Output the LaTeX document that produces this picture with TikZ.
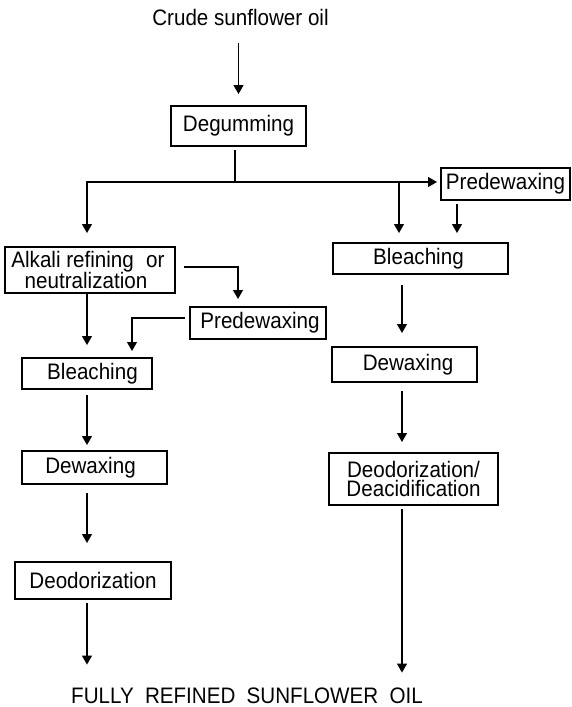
\documentclass[tikz,border=0pt]{standalone}
\usepackage{fontspec}
\setmainfont{Liberation Sans}[FakeStretch=0.92]
\usetikzlibrary{arrows.meta}
\begin{document}
\begin{tikzpicture}[x=1pt,y=-1pt,
  font=\fontsize{22.4pt}{19pt}\selectfont,
  box/.style={draw, line width=1.3pt, inner sep=0pt, outer sep=0pt, anchor=north west, align=center},
  lbl/.style={inner sep=0pt, outer sep=0pt, align=center},
  ln/.style={line width=1.3pt},
  arr/.style={ln, -{Triangle[width=10pt,length=9pt]}}]
\useasboundingbox (0,0) rectangle (571,707);
% column / level helpers
\coordinate (cL) at (87,0);
\coordinate (cM) at (238,0);
\coordinate (cN) at (132,0);
\coordinate (cR1) at (399,0);
\coordinate (cR2) at (457,0);
\coordinate (cR) at (402,0);
\coordinate (ya) at (0,267);
\coordinate (yb) at (0,318);
\coordinate (j) at (235,182);
% nodes
\node[lbl] (crude) at (240.5,17) {Crude sunflower oil};
\node[box, minimum width=135pt, minimum height=40pt] (deg) at (171,106) {Degumming};
\node[box, minimum width=170pt, minimum height=46pt] (alk) at (5,247) {Alkali refining\hspace{0.55em}or\hspace*{4pt}\\neutralization\hspace*{8pt}};
\node[box, minimum width=136pt, minimum height=32pt] (pdwL) at (190,307) {\hspace*{4pt}Predewaxing};
\node[box, minimum width=130pt, minimum height=31pt] (blL) at (22,358) {\hspace*{11pt}Bleaching};
\node[box, minimum width=145pt, minimum height=33pt] (dwL) at (22,451) {Dewaxing\hspace*{8pt}};
\node[box, minimum width=156pt, minimum height=37pt] (deoL) at (15,562) {Deodorization};
\node[box, minimum width=129pt, minimum height=32pt] (pdwR) at (441,168) {Predewaxing};
\node[box, minimum width=175pt, minimum height=31pt] (blR) at (333,243) {Bleaching\hspace*{4pt}};
\node[box, minimum width=145pt, minimum height=35pt] (dwR) at (332,347) {\hspace*{7pt}Dewaxing};
\node[box, minimum width=169pt, minimum height=52pt] (deoR) at (329,453) {Deodorization/\\Deacidification};
\node[lbl] (fully) at (247,695.5) {FULLY\hspace{0.5em}REFINED\hspace{0.5em}SUNFLOWER\hspace{0.5em}OIL};
% connectors
\draw[arr, shorten <=18pt, shorten >=12pt] (crude.south -| deg.north) -- (deg.north);
\draw[ln, shorten <=4pt] (deg.south -| j) -- (j);
\draw[arr, shorten >=14pt] (j) -| (alk.north -| cL);
\draw[arr, shorten >=4pt] (j) -- (pdwR.west |- j);
\draw[arr, shorten >=10pt] (j -| cR1) -- (blR.north -| cR1);
\draw[arr, shorten <=4pt, shorten >=10pt] (pdwR.south -| cR2) -- (blR.north -| cR2);
\draw[arr, shorten <=9pt, shorten >=8pt] (alk.east |- ya) -| (pdwL.north -| cM);
\draw[arr, shorten >=13pt] (alk.south -| cL) -- (blL.north -| cL);
\draw[arr, shorten <=5pt, shorten >=7pt] (pdwL.west |- yb) -| (blL.north -| cN);
\draw[arr, shorten <=6pt, shorten >=6pt] (blL.south -| cL) -- (dwL.north -| cL);
\draw[arr, shorten <=9pt, shorten >=19pt] (dwL.south -| cL) -- (deoL.north -| cL);
\draw[arr, shorten <=4pt, shorten >=23pt] (deoL.south -| cL) -- (fully.north -| cL);
\draw[arr, shorten <=11pt, shorten >=14pt] (blR.south -| cR) -- (dwR.north -| cR);
\draw[arr, shorten <=9pt, shorten >=11pt] (dwR.south -| cR) -- (deoR.north -| cR);
\draw[arr, shorten <=4pt, shorten >=15pt] (deoR.south -| cR) -- (fully.north -| cR);
\end{tikzpicture}
\end{document}
